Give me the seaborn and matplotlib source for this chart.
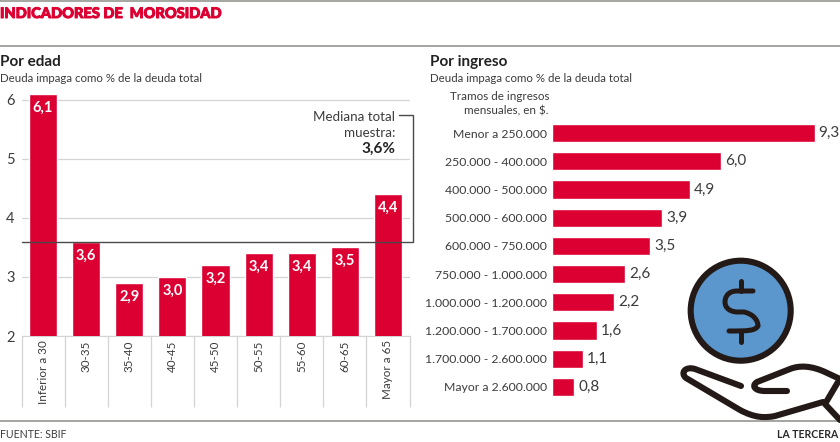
import pandas as pd
import matplotlib.pyplot as plt
import matplotlib.patheffects as pe
import seaborn as sns
from matplotlib.patches import Circle, PathPatch
from matplotlib.path import Path

# Data
edades = ['Inferior a 30', '30-35', '35-40', '40-45', '45-50', '50-55', '55-60', '60-65', 'Mayor a 65']
mora_edad = [6.1, 3.6, 2.9, 3.0, 3.2, 3.4, 3.4, 3.5, 4.4]
mediana = 3.6
tramos = ['Menor a 250.000', '250.000 - 400.000', '400.000 - 500.000', '500.000 - 600.000',
          '600.000 - 750.000', '750.000 - 1.000.000', '1.000.000 - 1.200.000',
          '1.200.000 - 1.700.000', '1.700.000 - 2.600.000', 'Mayor a 2.600.000']
mora_ingreso = [9.3, 6.0, 4.9, 3.9, 3.5, 2.6, 2.2, 1.6, 1.1, 0.8]

ROJO = '#dc0032'
TEXTO = '#3c3c3c'
GRIS = '#d4d4d4'
W, H = 840, 442

sns.set_style('white')
plt.rcParams['font.family'] = ['Lato', 'DejaVu Sans']

df_edad = pd.DataFrame({'edad': edades, 'mora': mora_edad})
df_ingreso = pd.DataFrame({'tramo': tramos, 'mora': mora_ingreso})


def px_axes(fig, x0, y0, x1, y1):
    # axes placed with pixel coordinates, y measured from the top
    return fig.add_axes([x0 / W, 1 - y1 / H, (x1 - x0) / W, (y1 - y0) / H])


def coma(v):
    return f'{v:.1f}'.replace('.', ',')


fig = plt.figure(figsize=(8.4, 4.42), dpi=100)

# Por edad
ax1 = px_axes(fig, 21.5, 94, 409.5, 336)
sns.barplot(data=df_edad, x='edad', y='mora', color=ROJO, saturation=1, width=0.65, ax=ax1, zorder=3)
ax1.set_xlim(-0.5, 8.5)
ax1.set_ylim(2, 6.1)
ax1.set_yticks([2, 3, 4, 5, 6])
ax1.grid(axis='y', color=GRIS, lw=0.9, zorder=0)
ax1.set_xlabel('')
ax1.set_ylabel('')
sns.despine(ax=ax1, left=True, top=True, right=True, bottom=False)
ax1.spines['bottom'].set_color(GRIS)
ax1.tick_params(axis='y', length=0, pad=5, labelsize=10.5, labelcolor=TEXTO)
ax1.tick_params(axis='x', which='major', length=0, pad=3, labelsize=8.4, labelcolor=TEXTO, labelrotation=90)
ax1.set_xticks([i - 0.5 for i in range(len(edades) + 1)], minor=True)
ax1.tick_params(axis='x', which='minor', length=51, width=0.9, color=GRIS, bottom=True)
ax1.bar_label(ax1.containers[0], labels=[coma(v) for v in mora_edad], padding=-15,
              color='white', fontweight='bold', fontsize=10.5)

# Linea de la mediana con su conector hacia la nota
ax1.plot([-0.5, 8.57, 8.57, 8.25], [mediana, mediana, 5.75, 5.75], color='#4a4a4a',
         lw=1, clip_on=False, zorder=4, solid_joinstyle='miter')

# Por ingreso
ax2 = px_axes(fig, 551.5, 119, 840, 401)
sns.barplot(data=df_ingreso, y='tramo', x='mora', color=ROJO, saturation=1, width=0.64, ax=ax2, orient='h')
ax2.set_xlim(0, 10.2)
ax2.set_xlabel('')
ax2.set_ylabel('')
ax2.set_xticks([])
sns.despine(ax=ax2, left=True, top=True, right=True, bottom=True)
ax2.tick_params(axis='y', length=0, pad=3, labelsize=8.8, labelcolor=TEXTO)
ax2.bar_label(ax2.containers[0], labels=[coma(v) for v in mora_ingreso], padding=3,
              color=TEXTO, fontsize=11)

# Capa en pixeles para encabezados, reglas e icono
ov = fig.add_axes([0, 0, 1, 1], zorder=5)
ov.set_xlim(0, W)
ov.set_ylim(H, 0)
ov.axis('off')

for y in [0.8, 46, 421]:
    ov.plot([0, W], [y, y], color='#8c8c86', lw=1.1)

ov.text(0, 14, 'INDICADORES DE  MOROSIDAD', color=ROJO, fontsize=10.5, fontweight='black', va='center',
        path_effects=[pe.withStroke(linewidth=0.7, foreground=ROJO)])
ov.text(0, 62, 'Por edad', color='#222222', fontsize=11, fontweight='bold', va='center')
ov.text(0, 79, 'Deuda impaga como % de la deuda total', color=TEXTO, fontsize=8.3, va='center')
ov.text(430, 62, 'Por ingreso', color='#222222', fontsize=11, fontweight='bold', va='center')
ov.text(430, 79, 'Deuda impaga como % de la deuda total', color=TEXTO, fontsize=8.3, va='center')
ov.text(549, 96, 'Tramos de ingresos', color=TEXTO, fontsize=8.4, va='center', ha='right')
ov.text(549, 111, 'mensuales, en $.', color=TEXTO, fontsize=8.4, va='center', ha='right')
ov.text(395, 117, 'Mediana total', color=TEXTO, fontsize=9.6, va='center', ha='right')
ov.text(395, 133, 'muestra:', color=TEXTO, fontsize=9.6, va='center', ha='right')
ov.text(395, 149, '3,6%', color='#222222', fontsize=11, fontweight='bold', va='center', ha='right')
ov.text(0, 435, 'FUENTE: SBIF', color=TEXTO, fontsize=7.6, va='center')
ov.text(838, 435, 'LA TERCERA', color='#2a2a2a', fontsize=7.6, fontweight='bold', va='center', ha='right')

# Icono: moneda
NEGRO = '#231a17'
ov.add_patch(Circle((740.7, 310.7), 50, facecolor='#5b96cd', edgecolor=NEGRO, lw=4.4))
M, L, C = Path.MOVETO, Path.LINETO, Path.CURVE4
ese = Path([(753, 291), (737, 291), (728, 291), (725, 297), (725, 302), (725, 308), (730, 312),
            (738, 312), (744, 312), (753, 314), (758, 320), (758, 326), (755, 331), (747, 331), (729, 331)],
           [M, L, C, C, C, C, C, C, L, C, C, C, C, C, L])
ov.add_patch(PathPatch(ese, fill=False, edgecolor=NEGRO, lw=3.6, capstyle='round'))
ov.plot([740.7, 740.7], [281, 291], color=NEGRO, lw=3.6, solid_capstyle='round')
ov.plot([740.7, 740.7], [331, 342], color=NEGRO, lw=3.6, solid_capstyle='round')

# Icono: mano
mano = Path([(741, 386), (695, 369), (685, 366), (680, 373), (686, 378),
             (740, 410), (755, 418), (765, 418), (775, 416), (823, 402)],
            [M, L, C, C, C, L, C, C, C, L])
ov.add_patch(PathPatch(mano, fill=False, edgecolor=NEGRO, lw=4.4, capstyle='round', joinstyle='round'))
pulgar = Path([(787, 391), (765, 391), (755, 391), (751, 386), (757, 382),
               (790, 369), (800, 365), (812, 366), (825, 372), (840, 379)],
              [M, L, C, C, C, L, C, C, C, L])
ov.add_patch(PathPatch(pulgar, fill=False, edgecolor=NEGRO, lw=4.4, capstyle='round', joinstyle='round'))
ov.plot([838, 825, 840], [382, 404, 420], color=NEGRO, lw=4.4, solid_joinstyle='round')

fig.savefig('out.png', dpi=100)
